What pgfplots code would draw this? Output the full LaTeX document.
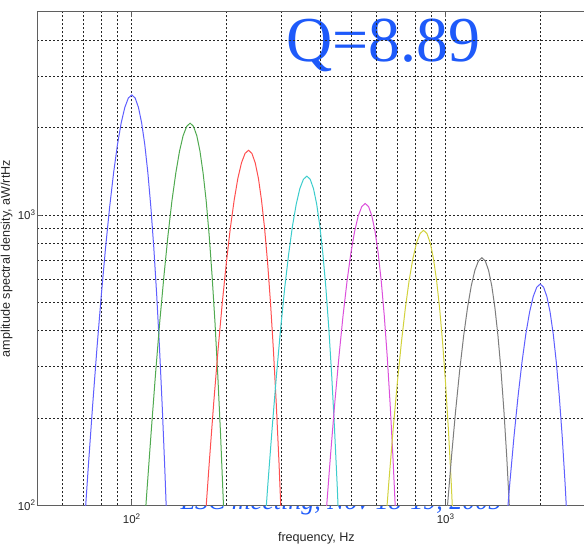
\documentclass[border=0pt]{standalone}
\usepackage{pgfplots}
\pgfplotsset{compat=1.18}
\usepackage{fontspec}
\setmainfont{Liberation Sans}
\newfontfamily\timesfont{Liberation Serif}

\definecolor{qblue}{RGB}{30,90,250}
\definecolor{sgblue}{RGB}{95,95,255}
\definecolor{sggreen}{RGB}{80,170,80}
\definecolor{sgred}{RGB}{255,80,80}
\definecolor{sgcyan}{RGB}{60,205,205}
\definecolor{sgmagenta}{RGB}{220,80,220}
\definecolor{sgyellow}{RGB}{210,210,60}
\definecolor{sggray}{RGB}{125,125,125}
\definecolor{framegray}{RGB}{95,95,95}

\begin{document}
\begin{tikzpicture}
% slide footer, mostly hidden behind the plot area
\node[anchor=base, inner sep=0pt, text=qblue,
      font=\timesfont\itshape\fontsize{26}{30}\selectfont]
  at (303.7pt,-4.7pt) {LSC meeting, Nov 18-19, 2005};
% white plot area
\fill[white] (0pt,0pt) rectangle (558.2pt,493.3pt);
% quality factor of the sine-Gaussians
\node[anchor=base west, inner sep=0pt, text=qblue,
      font=\timesfont\fontsize{64}{70}\selectfont]
  at (248.5pt,443.3pt) {Q=8.89};

\begin{axis}[
  at={(0pt,0pt)}, anchor=south west,
  scale only axis, width=558.2pt, height=493.3pt,
  xmode=log, ymode=log,
  xmin=50, xmax=3000, ymin=100, ymax=5000,
  xtick={100,1000}, xticklabels={10\textsuperscript{2},10\textsuperscript{3}},
  ytick={100,1000}, yticklabels={10\textsuperscript{2},10\textsuperscript{3}},
  minor xtick={60,70,80,90,200,300,400,500,600,700,800,900,2000,3000},
  minor ytick={200,300,400,500,600,700,800,900,2000,3000,4000},
  xmajorgrids, ymajorgrids, xminorgrids, yminorgrids,
  grid style={black!85, line width=0.7pt, dash pattern=on 2pt off 2pt},
  minor grid style={black!85, line width=0.7pt, dash pattern=on 2pt off 2pt},
  major tick length=5pt, minor tick length=0pt,
  tick align=inside,
  every tick/.style={framegray, line width=0.8pt},
  axis line style={framegray, line width=1pt},
  tick label style={font=\fontsize{11.5}{13}\selectfont, black!85},
  xticklabel style={anchor=north, inner sep=0pt, yshift=-8pt},
  yticklabel style={anchor=east, inner sep=1.5pt},
  xlabel={frequency, Hz},
  ylabel={amplitude spectral density, aW/rtHz},
  every axis x label/.style={at={(axis description cs:0.5,-0.0724)}, anchor=base,
    font=\fontsize{12.6}{15}\selectfont, text=black!85},
  every axis y label/.style={at={(axis description cs:-0.0493,0.5)}, anchor=base, rotate=90,
    font=\fontsize{12.6}{15}\selectfont, text=black!85},
  every axis plot/.append style={line width=1pt},
]

% 100 Hz
\addplot[sgblue] coordinates {
(70,73.9) (72.5,130.4) (75,219.2) (77.5,350.3) (80,533.2) (82.5,772.1)
(85,1064.6) (87.5,1396.7) (90,1744.6) (92.5,2073.7) (95,2346.1) (97.5,2526.8)
(100,2590)
(102.5,2526.8) (105,2346.1) (107.5,2073.7) (110,1744.6) (112.5,1396.7) (115,1064.6)
(117.5,772.1) (120,533.2) (122.5,350.3) (125,219.2) (127.5,130.4) (130,73.9)};

% 153 Hz
\addplot[sggreen] coordinates {
(107.4,59.1) (111.2,104.3) (115.1,175.2) (118.9,280.0) (122.7,426.1) (126.6,617.1)
(130.4,850.9) (134.2,1116.3) (138.1,1394.4) (141.9,1657.3) (145.7,1875.0) (149.6,2019.5)
(153.4,2070)
(157.2,2019.5) (161.1,1875.0) (164.9,1657.3) (168.7,1394.4) (172.6,1116.3) (176.4,850.9)
(180.2,617.1) (184.1,426.1) (187.9,280.0) (191.8,175.2) (195.6,104.3) (199.4,59.1)};

% 235 Hz
\addplot[sgred] coordinates {
(164.8,47.7) (170.7,84.1) (176.6,141.3) (182.4,225.9) (188.3,343.8) (194.2,497.9)
(200.1,686.5) (206.0,900.6) (211.9,1124.9) (217.7,1337.1) (223.6,1512.7) (229.5,1629.3)
(235.4,1670)
(241.3,1629.3) (247.2,1512.7) (253.1,1337.1) (258.9,1124.9) (264.8,900.6) (270.7,686.5)
(276.6,497.9) (282.5,343.8) (288.4,225.9) (294.3,141.3) (300.1,84.1) (306.0,47.7)};

% 361 Hz
\addplot[sgcyan] coordinates {
(252.8,38.8) (261.8,68.5) (270.8,115.1) (279.9,184.0) (288.9,280.0) (297.9,405.4)
(306.9,559.0) (316.0,733.4) (325.0,916.1) (334.0,1088.9) (343.0,1231.9) (352.1,1326.8)
(361.1,1360)
(370.1,1326.8) (379.2,1231.9) (388.2,1088.9) (397.2,916.1) (406.2,733.4) (415.3,559.0)
(424.3,405.4) (433.3,280.0) (442.3,184.0) (451.4,115.1) (460.4,68.5) (469.4,38.8)};

% 554 Hz
\addplot[sgmagenta] coordinates {
(387.8,31.2) (401.7,55.2) (415.5,92.7) (429.4,148.1) (443.2,225.4) (457.1,326.4)
(470.9,450.1) (484.8,590.5) (498.6,737.6) (512.5,876.7) (526.3,991.9) (540.2,1068.3)
(554.0,1095)
(567.9,1068.3) (581.7,991.9) (595.6,876.7) (609.4,737.6) (623.3,590.5) (637.1,450.1)
(651.0,326.4) (664.8,225.4) (678.7,148.1) (692.5,92.7) (706.4,55.2) (720.2,31.2)};

% 850 Hz
\addplot[sgyellow] coordinates {
(594.9,25.3) (616.2,44.6) (637.4,74.9) (658.7,119.7) (679.9,182.2) (701.2,263.8)
(722.4,363.8) (743.7,477.3) (764.9,596.1) (786.2,708.6) (807.4,801.7) (828.7,863.4)
(849.9,885)
(871.1,863.4) (892.4,801.7) (913.6,708.6) (934.9,596.1) (956.1,477.3) (977.4,363.8)
(998.6,263.8) (1019.9,182.2) (1041.1,119.7) (1062.4,74.9) (1083.6,44.6) (1104.9,25.3)};

% 1304 Hz
\addplot[sggray] coordinates {
(912.7,20.3) (945.3,35.9) (977.9,60.2) (1010.4,96.3) (1043.0,146.6) (1075.6,212.3)
(1108.2,292.7) (1140.8,384.0) (1173.4,479.6) (1206.0,570.1) (1238.6,644.9) (1271.2,694.6)
(1303.8,712)
(1336.4,694.6) (1369.0,644.9) (1401.6,570.1) (1434.2,479.6) (1466.8,384.0) (1499.4,292.7)
(1532.0,212.3) (1564.6,146.6) (1597.2,96.3) (1629.8,60.2) (1662.3,35.9) (1694.9,20.3)};

% 2000 Hz
\addplot[sgblue] coordinates {
(1400,16.5) (1450,29.1) (1500,48.9) (1550,78.2) (1600,119.0) (1650,172.3)
(1700,237.6) (1750,311.7) (1800,389.3) (1850,462.8) (1900,523.6) (1950,563.9)
(2000,578)
(2050,563.9) (2100,523.6) (2150,462.8) (2200,389.3) (2250,311.7) (2300,237.6)
(2350,172.3) (2400,119.0) (2450,78.2) (2500,48.9) (2550,29.1) (2600,16.5)};

\end{axis}
\pgfresetboundingbox
\useasboundingbox (-37.3pt,-39.7pt) rectangle (546.7pt,505.3pt);
\end{tikzpicture}
\end{document}
